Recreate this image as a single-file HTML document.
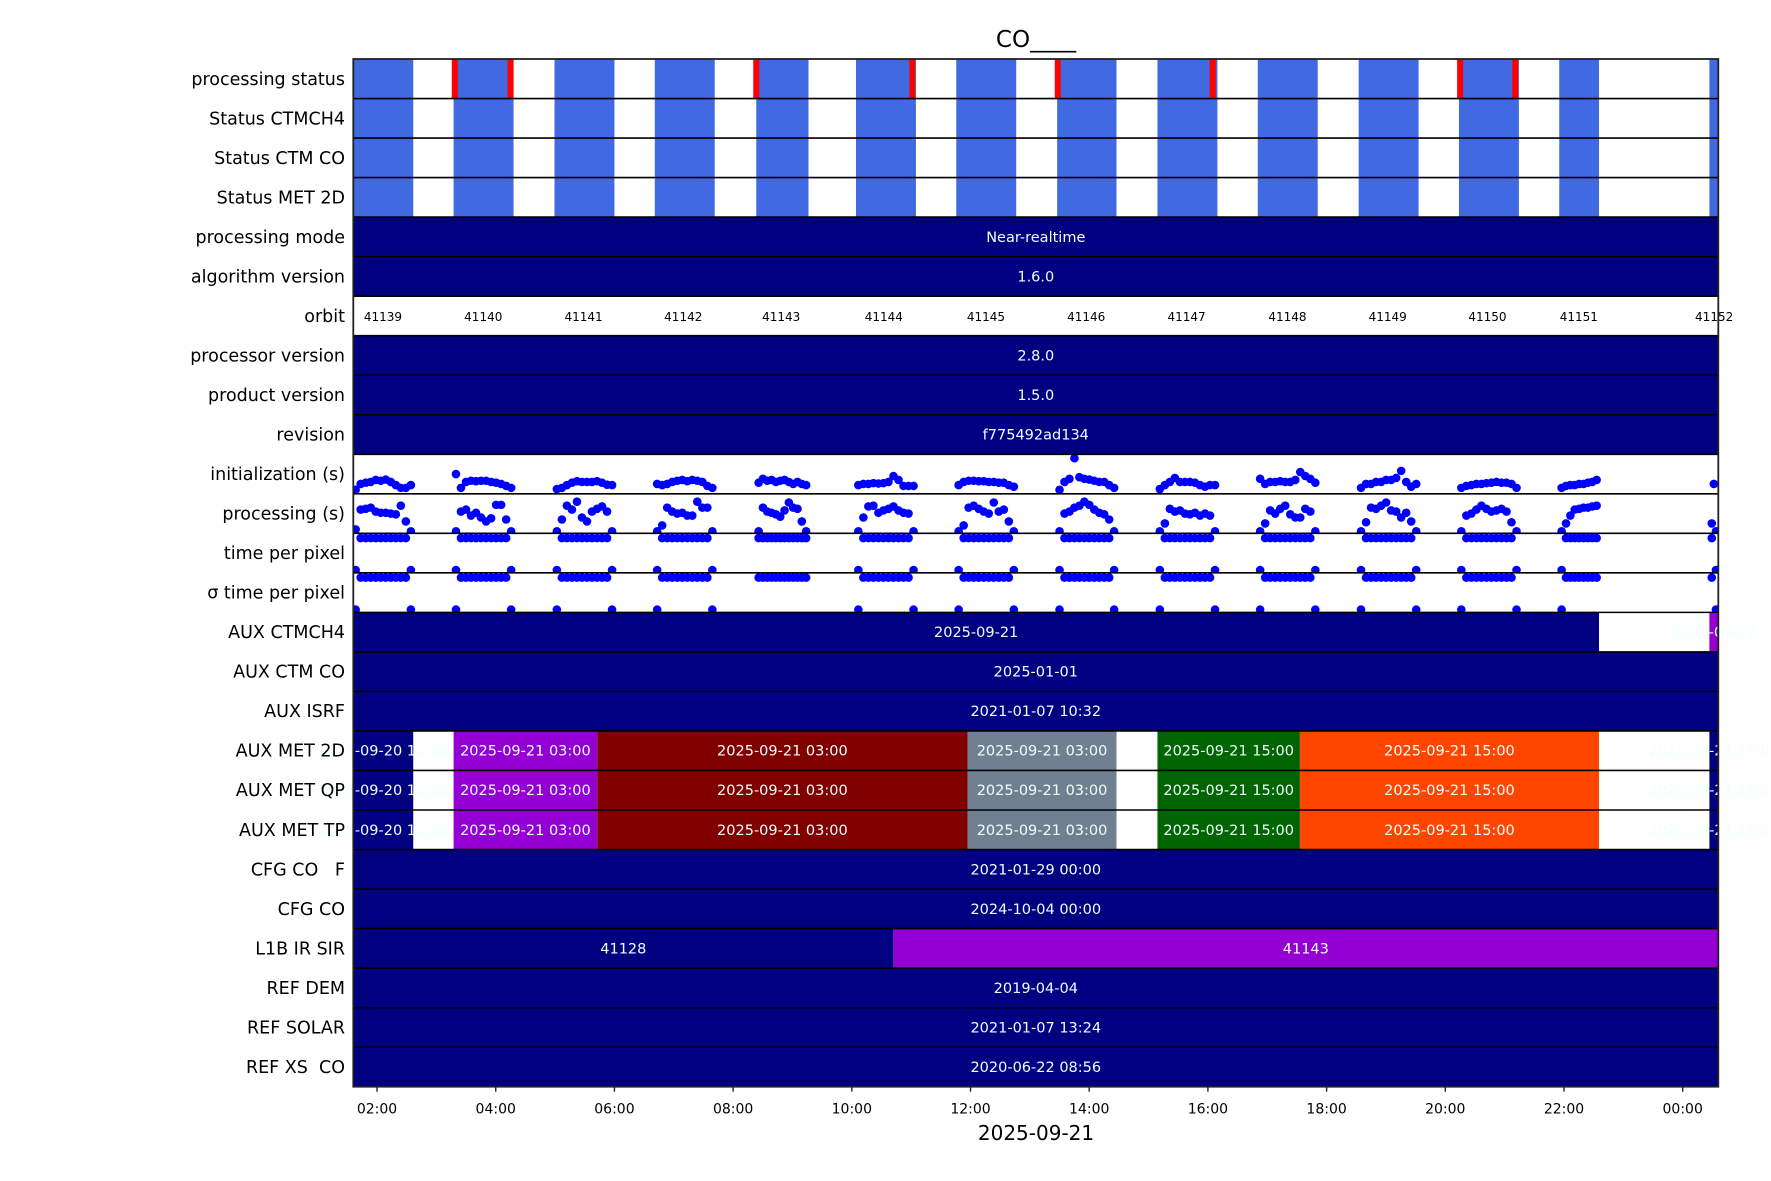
<!DOCTYPE html>
<html><head><meta charset="utf-8">
<style>
html,body{margin:0;padding:0;background:#fff;}
svg{display:block;font-family:"DejaVu Sans","Liberation Sans",sans-serif;}
</style></head>
<body>
<svg id="chart" width="1771" height="1181" viewBox="0 0 1771 1181" xmlns="http://www.w3.org/2000/svg">
<text x="1036" y="47" font-size="23" text-anchor="middle" fill="#000">CO____</text>
<text x="1036" y="1140" font-size="20" text-anchor="middle" fill="#000">2025-09-21</text>
<g id="rows"></g>
<g id="frame"></g>
</svg>
<script>
const rowNames = ["processing status","Status CTMCH4","Status CTM CO","Status MET 2D","processing mode","algorithm version","orbit","processor version","product version","revision","initialization (s)","processing (s)","time per pixel","σ time per pixel","AUX CTMCH4","AUX CTM CO","AUX ISRF","AUX MET 2D","AUX MET QP","AUX MET TP","CFG CO   F","CFG CO","L1B IR SIR","REF DEM","REF SOLAR","REF XS  CO"];
const granuleStart = [1.60,3.29,4.99,6.68,8.39,10.07,11.76,13.46,15.15,16.84,18.54,20.23,21.92,24.45];
const granuleEnd   = [2.61,4.30,6.00,7.69,9.27,11.08,12.77,14.46,16.16,17.85,19.55,21.24,22.59,24.60];
const failTimes = [3.31,4.25,8.39,11.02,13.47,16.08,20.25,21.18];
const orbitNumbers = ["41139","41140","41141","41142","41143","41144","41145","41146","41147","41148","41149","41150","41151","41152"];
const orbitTimes = [2.10,3.79,5.48,7.16,8.81,10.54,12.26,13.95,15.64,17.34,19.03,20.71,22.25,24.53];
const tickHours = [2,4,6,8,10,12,14,16,18,20,22,24];
const tickLabels = ["02:00","04:00","06:00","08:00","10:00","12:00","14:00","16:00","18:00","20:00","22:00","00:00"];
const initVals = [
 [0.10,0.25,0.28,0.30,0.35,0.33,0.36,0.30,0.22,0.15,0.15,0.22],
 [0.50,0.15,0.30,0.33,0.32,0.33,0.33,0.30,0.28,0.25,0.20,0.15],
 [0.12,0.15,0.22,0.28,0.32,0.30,0.30,0.30,0.32,0.28,0.23,0.22],
 [0.25,0.22,0.25,0.30,0.33,0.35,0.32,0.35,0.33,0.30,0.20,0.15],
 [0.28,0.38,0.33,0.35,0.30,0.33,0.35,0.30,0.25,0.30,0.25,0.22],
 [0.22,0.25,0.25,0.27,0.26,0.27,0.30,0.45,0.35,0.20,0.20,0.20],
 [0.22,0.30,0.33,0.33,0.32,0.32,0.30,0.30,0.28,0.28,0.22,0.18],
 [0.10,0.30,0.38,0.90,0.42,0.38,0.36,0.33,0.30,0.30,0.22,0.15],
 [0.12,0.22,0.30,0.40,0.30,0.30,0.30,0.28,0.22,0.18,0.22,0.22],
 [0.38,0.25,0.30,0.30,0.32,0.30,0.30,0.35,0.55,0.45,0.38,0.28],
 [0.15,0.25,0.25,0.30,0.30,0.35,0.35,0.40,0.58,0.30,0.18,0.25],
 [0.15,0.20,0.22,0.25,0.25,0.27,0.28,0.30,0.28,0.28,0.25,0.15],
 [0.15,0.20,0.22,0.22,0.25,0.25,0.28,0.30,0.35],
 [0.25]];
const procVals = [
 [0.10,0.60,0.62,0.65,0.55,0.52,0.52,0.50,0.48,0.70,0.30,0.05],
 [0.05,0.55,0.60,0.45,0.52,0.40,0.30,0.38,0.72,0.72,0.35,0.05],
 [0.05,0.35,0.70,0.60,0.80,0.40,0.30,0.55,0.62,0.68,0.55,0.05],
 [0.05,0.20,0.65,0.55,0.50,0.52,0.45,0.45,0.80,0.65,0.65,0.05],
 [0.05,0.65,0.55,0.52,0.48,0.42,0.58,0.78,0.65,0.62,0.30,0.05],
 [0.05,0.40,0.68,0.70,0.52,0.58,0.62,0.68,0.58,0.52,0.50,0.05],
 [0.05,0.20,0.65,0.70,0.62,0.55,0.50,0.78,0.55,0.60,0.30,0.05],
 [0.05,0.50,0.55,0.65,0.70,0.80,0.72,0.60,0.52,0.48,0.35,0.05],
 [0.05,0.25,0.62,0.55,0.58,0.50,0.48,0.52,0.45,0.50,0.45,0.05],
 [0.05,0.25,0.58,0.50,0.62,0.70,0.48,0.40,0.40,0.62,0.55,0.05],
 [0.05,0.28,0.65,0.62,0.70,0.78,0.58,0.55,0.40,0.52,0.30,0.05],
 [0.05,0.45,0.50,0.60,0.70,0.62,0.55,0.58,0.62,0.55,0.28,0.05],
 [0.05,0.25,0.45,0.60,0.62,0.65,0.65,0.68,0.70],
 [0.25,0.05]];
const tppVals = [
 [0.07,0.88,0.88,0.88,0.88,0.88,0.88,0.88,0.88,0.88,0.88,0.07],
 [0.07,0.88,0.88,0.88,0.88,0.88,0.88,0.88,0.88,0.88,0.88,0.07],
 [0.07,0.88,0.88,0.88,0.88,0.88,0.88,0.88,0.88,0.88,0.88,0.07],
 [0.07,0.88,0.88,0.88,0.88,0.88,0.88,0.88,0.88,0.88,0.88,0.07],
 [0.88,0.88,0.88,0.88,0.88,0.88,0.88,0.88,0.88,0.88,0.88,0.88],
 [0.07,0.88,0.88,0.88,0.88,0.88,0.88,0.88,0.88,0.88,0.88,0.07],
 [0.07,0.88,0.88,0.88,0.88,0.88,0.88,0.88,0.88,0.88,0.88,0.07],
 [0.07,0.88,0.88,0.88,0.88,0.88,0.88,0.88,0.88,0.88,0.88,0.07],
 [0.07,0.88,0.88,0.88,0.88,0.88,0.88,0.88,0.88,0.88,0.88,0.07],
 [0.07,0.88,0.88,0.88,0.88,0.88,0.88,0.88,0.88,0.88,0.88,0.07],
 [0.07,0.88,0.88,0.88,0.88,0.88,0.88,0.88,0.88,0.88,0.88,0.07],
 [0.07,0.88,0.88,0.88,0.88,0.88,0.88,0.88,0.88,0.88,0.88,0.07],
 [0.07,0.88,0.88,0.88,0.88,0.88,0.88,0.88,0.88],
 [0.88,0.07]];
const sigmaVals = tppVals;
// bar rows: [rowIndex, start, end, color, label]
const barSegments = [
 [4,1.6,24.6,"#000080","Near-realtime"],
 [5,1.6,24.6,"#000080","1.6.0"],
 [7,1.6,24.6,"#000080","2.8.0"],
 [8,1.6,24.6,"#000080","1.5.0"],
 [9,1.6,24.6,"#000080","f775492ad134"],
 [14,1.6,22.59,"#000080","2025-09-21"],
 [14,24.45,24.6,"#9400d3","2025-09-22"],
 [15,1.6,24.6,"#000080","2025-01-01"],
 [16,1.6,24.6,"#000080","2021-01-07 10:32"],
 [20,1.6,24.6,"#000080","2021-01-29 00:00"],
 [21,1.6,24.6,"#000080","2024-10-04 00:00"],
 [22,1.6,10.70,"#000080","41128"],
 [22,10.70,24.6,"#9400d3","41143"],
 [23,1.6,24.6,"#000080","2019-04-04"],
 [24,1.6,24.6,"#000080","2021-01-07 13:24"],
 [25,1.6,24.6,"#000080","2020-06-22 08:56"]];
const metStarts = [1.6,3.29,5.71,11.95,15.15,17.55,24.45];
const metEnds   = [2.61,5.71,11.95,14.46,17.55,22.59,24.6];
const metColors = ["#000080","#9400d3","#800000","#708090","#006400","#ff4500","#000080"];
const metLabels = ["2025-09-20 15:00","2025-09-21 03:00","2025-09-21 03:00","2025-09-21 03:00","2025-09-21 15:00","2025-09-21 15:00","2025-09-21 15:00"];

const X0=353.3, X1=1718.3, H0=1.6, H1=24.6, TOP=59, BOT=1086.7;
const RH=(BOT-TOP)/rowNames.length;
const NS="http://www.w3.org/2000/svg";
function xs(h){return X0+(h-H0)*(X1-X0)/(H1-H0);}
function rowTop(i){return TOP+i*RH;}
function mk(tag,attrs,parent){const e=document.createElementNS(NS,tag);for(const k in attrs)e.setAttribute(k,attrs[k]);parent.appendChild(e);return e;}
const svg=document.getElementById('chart');
const rows=document.getElementById('rows');
const frame=document.getElementById('frame');
const defs=mk('defs',{},svg);
rowNames.forEach((n,i)=>{
  const cp=mk('clipPath',{id:'c'+i},defs);
  mk('rect',{x:X0,y:rowTop(i),width:X1-X0,height:RH},cp);
  const t=mk('text',{x:345,y:rowTop(i)+RH/2+6,'font-size':17.5,'text-anchor':'end',fill:'#000'},svg);
  
  
  t.style.whiteSpace='pre';
  t.textContent=n;
});
function barLabel(i,h,label,g){
  const t=mk('text',{x:xs(h),y:rowTop(i)+RH/2+5,'font-size':14.5,'text-anchor':'middle',fill:'#f0ffff'},g);
  
  
  t.textContent=label;
}
for(let r=0;r<4;r++){
  const g=mk('g',{'clip-path':'url(#c'+r+')'},rows);
  granuleStart.forEach((s,k)=>{
    const e=mk('rect',{x:xs(s),y:rowTop(r),width:xs(granuleEnd[k])-xs(s),height:RH,fill:'#4169e1'},g);
    
    
  });
  if(r===0){failTimes.forEach(f=>{
    const e=mk('rect',{x:xs(f)-3,y:rowTop(0),width:6,height:RH,fill:'#ff0000'},g);
    
    
  });}
}
const bars=mk('g',{},rows);
barSegments.forEach(b=>{
  const e=mk('rect',{x:xs(b[1]),y:rowTop(b[0]),width:xs(b[2])-xs(b[1]),height:RH,fill:b[3]},bars);
  
  
});
for(let r=17;r<=19;r++){
  metStarts.forEach((s,k)=>{
    const e=mk('rect',{x:xs(s),y:rowTop(r),width:xs(metEnds[k])-xs(s),height:RH,fill:metColors[k]},bars);
    
    
  });
}
function scatter(row,vals){
  const g=mk('g',{'clip-path':'url(#c'+row+')'},rows);
  vals.forEach((arr,k)=>{
    const s=granuleStart[k]+0.04, e=granuleEnd[k]-0.04, n=arr.length;
    arr.forEach((v,j)=>{
      const h = n>1 ? s+(e-s)*j/(n-1) : (s+e)/2;
      const c=mk('circle',{cx:xs(h),cy:rowTop(row)+RH*(1-v),r:4.3,fill:'#0000ff'},g);
      
      
    });
  });
}
scatter(10,initVals);scatter(11,procVals);scatter(12,tppVals);scatter(13,sigmaVals);
const labs=mk('g',{},rows);
barSegments.forEach(b=>barLabel(b[0],(b[1]+b[2])/2,b[4],labs));
for(let r=17;r<=19;r++){metStarts.forEach((s,k)=>barLabel(r,(s+metEnds[k])/2,metLabels[k],labs));}
orbitNumbers.forEach((o,k)=>{
  const t=mk('text',{x:xs(orbitTimes[k]),y:rowTop(6)+RH/2+5,'font-size':12,'text-anchor':'middle',fill:'#000'},labs);
  
  
  t.textContent=o;
});
for(let i=1;i<rowNames.length;i++){
  mk('line',{x1:X0,x2:X1,y1:rowTop(i),y2:rowTop(i),stroke:'#000','stroke-width':1.6},frame);
}
const fr=mk('rect',{x:X0,y:TOP,width:X1-X0,height:BOT-TOP,fill:'none',stroke:'#222','stroke-width':1.8},frame);


tickHours.forEach((h,k)=>{
  const l=mk('line',{x1:xs(h),x2:xs(h),y1:BOT,y2:BOT+5,stroke:'#222','stroke-width':1.4},frame);
  
  
  const t=mk('text',{x:xs(h),y:BOT+27,'font-size':14,'text-anchor':'middle',fill:'#000'},frame);
  
  
  t.textContent=tickLabels[k];
});
</script>
</body></html>
